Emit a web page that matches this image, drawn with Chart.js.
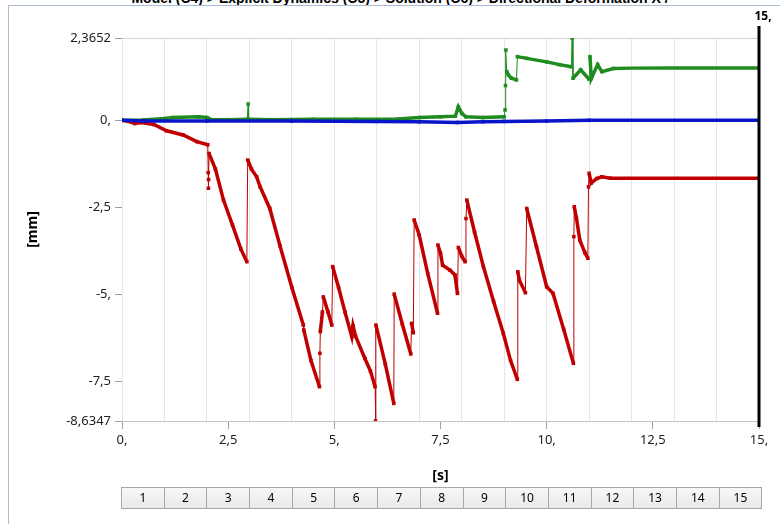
<!DOCTYPE html>
<html>
<head>
<meta charset="utf-8">
<script src="https://cdn.jsdelivr.net/npm/chart.js@4"></script>
<style>
  body { margin: 0; background: #fff; font-family: 'Noto Sans', sans-serif; }
  #wrap { position: relative; width: 780px; height: 524px; overflow: hidden; }
  #frame { position: absolute; left: 8px; top: 5px; width: 772px; height: 519px;
           border-left: 1px solid #a9bcd6; border-top: 1px solid #a9bcd6; }
  #titre { position: absolute; left: 0; width: 800px; top: -9px; text-align: center;
           font: bold 14px 'Liberation Sans', Arial, sans-serif; color: #000; line-height: 14px; }
  #graph { position: absolute; left: 0; top: 0; }
  #pas { position: absolute; left: 122px; top: 487px; display: flex; }
  #pas div { width: 41.7px; height: 20px; border: 1px solid #a8a8a8; margin-left: -1px;
             background: linear-gradient(#f8f8f8, #e8e8e8); font-size: 12px; line-height: 20px;
             text-align: center; color: #000; }
</style>
</head>
<body>
<div id="wrap">
  <div id="titre">Model (C4) &gt; Explicit Dynamics (C5) &gt; Solution (C6) &gt; Directional Deformation X /</div>
  <div id="frame"></div>
  <canvas id="graph" width="780" height="524"></canvas>
  <div id="pas"></div>
</div>
<script>
// temps [s] / deformation [mm]
const tRouge = [0, 0.15, 0.3, 0.45, 0.75, 1.05, 1.44, 1.76, 2.02, 2.03, 2.035, 2.04, 2.05, 2.2, 2.39, 2.6, 2.8, 2.94,
  2.96, 3.05, 3.17, 3.25, 3.48, 3.72, 4.0, 4.27, 4.28, 4.45, 4.65,
  4.66, 4.67, 4.72, 4.74, 4.85, 4.94, 4.96, 5.1, 5.25, 5.41, 5.44, 5.5, 5.72, 5.85, 5.96, 5.97, 5.98, 6.2, 6.4,
  6.41, 6.6, 6.8, 6.82, 6.86, 6.88, 7.0, 7.2, 7.43, 7.44, 7.5, 7.55, 7.72, 7.84, 7.9,
  7.92, 8.0, 8.08, 8.1, 8.12, 8.3, 8.51, 8.75, 8.98, 9.15, 9.31,
  9.32, 9.36, 9.5, 9.53, 9.76, 10.0, 10.15, 10.4, 10.63,
  10.64, 10.65, 10.7, 10.78, 10.9, 10.97, 10.985, 11.0, 11.05, 11.18, 11.3, 11.5, 12, 13, 14, 15];
const dRouge = [0, -0.03, -0.09, -0.06, -0.12, -0.30, -0.42, -0.61, -0.70, -1.5, -1.95, -1.7, -0.95, -1.4, -2.29, -3.0, -3.7, -4.06,
  -1.14, -1.4, -1.62, -1.9, -2.53, -3.6, -4.8, -5.88, -6.02, -6.9, -7.65,
  -6.69, -6.07, -5.5, -5.07, -5.5, -5.88, -4.2, -4.8, -5.5, -6.21, -5.9, -6.2, -6.84, -7.2, -7.65, -8.6347, -5.88, -7.0, -8.13,
  -4.99, -5.85, -6.71, -5.83, -6.10, -2.86, -3.3, -4.4, -5.54, -3.58, -3.82, -4.16, -4.30, -4.44, -4.97,
  -3.65, -3.9, -4.06, -2.82, -2.29, -3.2, -4.20, -5.2, -6.12, -6.9, -7.44,
  -4.35, -4.6, -4.95, -2.53, -3.63, -4.78, -4.97, -6.0, -6.98,
  -3.34, -2.48, -2.8, -3.44, -3.8, -3.96, -1.91, -1.52, -1.8, -1.67, -1.62, -1.66, -1.66, -1.66, -1.66, -1.66];

const tVert = [0, 0.5, 1.0, 1.2, 1.8, 2.0, 2.1, 2.5, 2.95, 2.97, 2.98, 3.5, 4.5, 5.5, 6.5, 7.0, 7.5, 7.85, 7.92, 8.0, 8.1, 8.5, 9.0,
  9.02, 9.03, 9.04, 9.06, 9.1, 9.17, 9.29, 9.31, 9.53, 10.0, 10.3, 10.58, 10.6, 10.62, 10.8, 11.0, 11.02, 11.05, 11.2, 11.3, 11.57, 12, 13, 15];
const dVert = [0, 0.01, 0.05, 0.08, 0.1, 0.08, 0.02, 0.02, 0.03, 0.47, 0.03, 0.02, 0.03, 0.03, 0.04, 0.08, 0.1, 0.12, 0.39, 0.2, 0.1, 0.08, 0.1,
  0.3, 1.0, 2.02, 1.4, 1.3, 1.21, 1.16, 1.83, 1.78, 1.68, 1.6, 1.54, 2.3652, 1.21, 1.45, 1.18, 1.83, 1.2, 1.6, 1.4, 1.49, 1.5, 1.5, 1.5];

const tBleu = [0, 0.5, 2, 4, 6, 7, 7.9, 8.5, 9, 10, 11, 12, 15];
const dBleu = [0, -0.02, -0.02, -0.02, -0.03, -0.04, -0.06, -0.04, -0.03, -0.02, 0, 0, 0];

const yTicks = [2.3652, 0, -2.5, -5, -7.5, -8.6347];
const yLabels = ['2,3652', '0,', '-2,5', '-5,', '-7,5', '-8,6347'];
const xTicks = [0, 2.5, 5, 7.5, 10, 12.5, 15];
const xLabels = ['0,', '2,5', '5,', '7,5', '10,', '12,5', '15,'];
const xGrille = [0, 1, 2, 3, 4, 5, 6, 7, 8, 9, 10, 11, 12, 13, 14, 15];
const pasTemps = ['1', '2', '3', '4', '5', '6', '7', '8', '9', '10', '11', '12', '13', '14', '15'];

let pas = document.getElementById("pas");
for (let i = 0; i < pasTemps.length; i++) {
    let c = document.createElement("div");
    c.textContent = pasTemps[i];
    pas.appendChild(c);
}

function points(t, d) {
    let res = [];
    for (let i = 0; i < t.length; i++) res.push({ x: t[i], y: d[i] });
    return res;
}

function serie(t, d, couleur) {
    return {
        data: points(t, d),
        borderColor: couleur,
        backgroundColor: couleur,
        pointStyle: "rect",
        pointRadius: ctx => (ctx.raw && ctx.raw.x >= 12 ? 0 : 2.5),
        pointBorderWidth: 0,
        pointBackgroundColor: couleur,
        borderWidth: 3.5,
        tension: 0,
        segment: {
            // les sauts verticaux sont fins
            borderWidth: ctx => (Math.abs(ctx.p1.parsed.x - ctx.p0.parsed.x) < 0.03 ? 1 : 3.5)
        }
    };
}

// ligne noire a 15 s
const ligneFin = {
    id: "ligneFin",
    afterDatasetsDraw(chart) {
        let c = chart.ctx;
        let x = chart.scales.x.getPixelForValue(15);
        c.save();
        c.strokeStyle = "#000";
        c.lineWidth = 3;
        c.beginPath();
        c.moveTo(x, 26);
        c.lineTo(x, chart.chartArea.bottom + 6);
        c.stroke();
        c.fillStyle = "#000";
        c.font = "bold 12px 'Noto Sans', sans-serif";
        c.textAlign = "center";
        c.fillText("15,", x + 4, 20);
        c.restore();
    }
};

Chart.defaults.font.family = "'Noto Sans', sans-serif";
Chart.defaults.font.size = 12;
Chart.defaults.color = "#222";

let chart = new Chart(document.getElementById("graph").getContext("2d"), {
    type: "line",
    data: {
        datasets: [
            serie(tBleu, dBleu, "#0a14c8"),
            serie(tVert, dVert, "#1e8c1e"),
            serie(tRouge, dRouge, "#c00000")
        ]
    },
    options: {
        responsive: false,
        animation: false,
        devicePixelRatio: 1,
        layout: { padding: { top: 38, right: 21, bottom: 0, left: 0 } },
        plugins: { legend: { display: false }, tooltip: { enabled: false } },
        scales: {
            x: {
                type: "linear",
                min: 0,
                max: 15,
                afterFit: s => { s.height = 103; },
                afterBuildTicks: s => {
                    let v = xGrille.concat(xTicks.filter(a => xGrille.indexOf(a) < 0));
                    v.sort((a, b) => a - b);
                    s.ticks = v.map(a => ({ value: a }));
                },
                ticks: {
                    autoSkip: false,
                    maxRotation: 0,
                    padding: 3,
                    font: { size: 13 },
                    callback: v => { let i = xTicks.indexOf(v); return i >= 0 ? xLabels[i] : ""; }
                },
                grid: {
                    color: ctx => (ctx.tick && Number.isInteger(ctx.tick.value) ? "#e6e6e6" : "rgba(0,0,0,0)"),
                    tickColor: ctx => (ctx.tick && xTicks.indexOf(ctx.tick.value) >= 0 ? "#a0a0a0" : "rgba(0,0,0,0)"),
                    tickLength: 8
                },
                border: { display: true, color: "#c4c4c4" },
                title: {
                    display: true,
                    text: "[s]",
                    font: { size: 14, weight: "bold" },
                    color: "#000",
                    padding: { top: 0, bottom: 40 }
                }
            },
            y: {
                min: -8.6347,
                max: 2.3652,
                afterFit: s => { s.width = 122; },
                afterBuildTicks: s => { s.ticks = yTicks.map(a => ({ value: a })); },
                ticks: {
                    padding: 4,
                    font: { size: 13 },
                    callback: v => { let i = yTicks.indexOf(v); return i >= 0 ? yLabels[i] : ""; }
                },
                grid: {
                    color: ctx => (ctx.tick && ctx.tick.value === 2.3652 ? "#d2d2d2" : "rgba(0,0,0,0)"),
                    tickColor: "#a0a0a0",
                    tickLength: 7
                },
                border: { display: false },
                title: {
                    display: true,
                    text: "[mm]",
                    font: { size: 14, weight: "bold" },
                    color: "#000",
                    padding: { top: 25, bottom: 0 }
                }
            }
        }
    },
    plugins: [ligneFin]
});
</script>
</body>
</html>
